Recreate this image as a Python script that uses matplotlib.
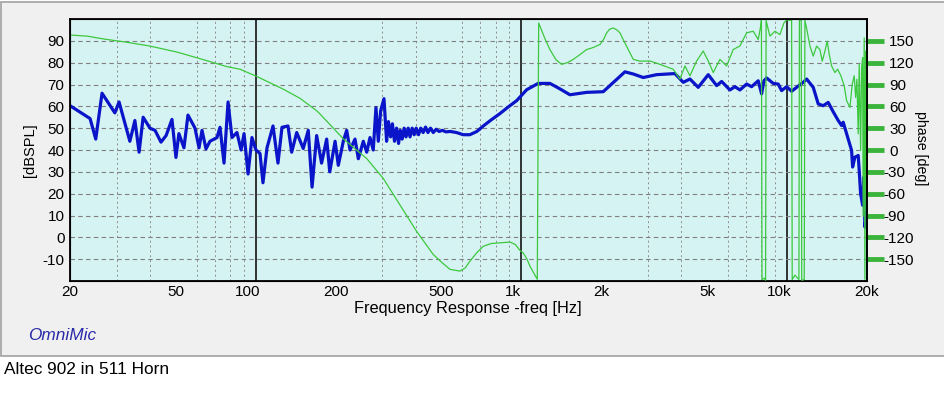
import matplotlib.pyplot as plt
import matplotlib.transforms as mtransforms
from matplotlib.patches import Rectangle
from matplotlib.ticker import FixedLocator, NullFormatter

# SPL curve (Hz, dB)
spl_freq = [20, 21.4, 23.8, 25.0, 26.4, 29.5, 30.6, 33.6, 35.1, 36.4, 37.7, 40.0, 41.8, 44.0,
            46.0, 48.4, 50.1, 51.4, 53.7, 55.6, 59.1, 61.2, 62.8, 65.0, 67.3, 71.5, 73.4, 76.0,
            78.7, 81.4, 85.0, 88.1, 90.4, 93.6, 96.8, 100.2, 103.8, 106.5, 110.3, 116.2, 121.3,
            125.6, 132.3, 136.6, 142.7, 151, 157.7, 163, 169.6, 177, 185, 190, 199, 204.6, 213.7,
            220, 226.5, 236.5, 243.4, 254.1, 261.8, 269.3, 277, 283.6, 289.4, 295.4, 304, 311,
            316, 322, 327, 333, 339, 345, 350, 356, 362, 368, 375, 381, 388, 395, 402, 410, 418,
            427, 436, 445, 455, 466, 478, 490, 505, 520, 540, 570, 604, 640, 680, 719, 770, 831,
            890, 960, 1047, 1157, 1281, 1397, 1523, 1761, 2033, 2454, 2638, 2876, 3230, 3784,
            4067, 4311, 4631, 5052, 5433, 5674, 6095, 6366, 6648, 7045, 7358, 7790, 8023, 8185,
            8378, 8872, 9266, 9542, 9964, 10406, 10866, 11508, 11852, 12550, 13106, 13686, 14290,
            14844, 15584, 16050, 16274, 16994, 17500, 17656, 18012, 18534, 18696, 18922, 19256,
            19468, 19640, 19932]
spl_db = [60.3, 58, 54.4, 45, 66, 57, 62, 44, 53.5, 39, 55, 50, 49, 43.6,
          46.6, 54, 36.6, 47.5, 41, 56, 50, 41, 49, 40.5, 44, 45.7, 50.4, 34,
          62, 45.7, 48, 40, 47.5, 29, 45.7, 40, 38.4, 25, 41, 51, 34,
          50.4, 51, 39, 48, 40.7, 49, 23, 46.6, 34, 45, 30, 44, 33, 44,
          49, 40, 45, 36, 44, 39, 45.7, 40, 59.4, 44, 58, 63.5, 44,
          53, 46, 52, 44, 50, 43, 49, 45, 50, 46, 50, 46, 50, 47, 50, 47, 50,
          48, 50.5, 48, 50, 48, 49.5, 48.5, 49, 48.3, 48.5, 48, 47, 47, 48.5, 51, 53.8, 56.7,
          59.6, 62.6, 67.6, 70.5, 70.5, 68, 65.3, 66.4, 66.7, 75.8, 74.8, 73.2, 74.5, 75,
          71, 72.5, 68.7, 74.5, 69.5, 71.4, 67.5, 69, 67.5, 70.2, 69, 71.7, 65.7, 71.7,
          73, 70.5, 70.2, 67.2, 69, 66.9, 68.7, 71, 72.5, 68.7, 61.1, 60.3, 61.8,
          58, 53.5, 51.2, 52.7, 45.1, 39.8, 32.2, 36.7, 37.5, 30.6, 20, 14.7,
          27.6, 4.7, 11]

# phase curve (Hz, deg), wraps at +-180
phase_freq = [20, 23.3, 26.6, 32.8, 40, 50.5, 61.7, 78, 87.3, 101, 127, 146.8, 169.6, 174.6,
              213.7, 261.8, 302, 349.2, 403.4, 466, 500, 538.6, 587, 615, 640.6, 680, 718.8, 770,
              830.7, 906, 950, 987.8, 1016, 1050, 1077, 1110, 1148, 1162, 1175, 1230, 1281, 1350,
              1418, 1490, 1568, 1660, 1761, 1870, 1976, 2040, 2094, 2150, 2218, 2290, 2350, 2430,
              2526, 2638, 2800, 3048, 3324, 3730, 3952, 4128, 4311, 4568, 4836, 5052, 5276, 5590,
              5924, 6272, 6648, 7045, 7460, 7790, 7958, 8010, 8050, 8185, 8304, 8342, 8620, 9004,
              9402, 9734, 9988, 10252, 10406, 10460, 10710, 10896, 11086, 11134, 11310, 11360,
              11608, 11678, 11882, 12194, 12550, 12924, 13298, 13570, 13892, 14170, 14416, 14718,
              15146, 15502, 15952, 16414, 16760, 17246, 17596, 17902, 18122, 18324, 18534, 18696,
              18922, 19088, 19256, 19352, 19522, 19640, 19806, 19932]
phase_deg = [158, 156.4, 152.7, 148, 142.8, 134.6, 125.5, 114.5, 111, 101, 83.6, 71, 54, 49.5,
             15.4, -11.8, -39, -75.4, -111.8, -143.6, -154, -164, -166.4, -162, -152.7, -141, -132.3, -128.5,
             -127.5, -126.5, -130, -138, -141.4, -150, -159.5, -168, -177.7, 174.5, 170, 152, 138, 124,
             117.7, 120, 124.5, 131, 138, 141, 145, 152, 161, 166, 167.7, 165, 161, 150,
             138, 124.5, 122, 122.3, 117.7, 110.9, 97.3, 115.5, 101.9, 122.3, 136, 122.3, 106.4, 124.5,
             115.5, 138, 143, 161, 163.2, 151.8, 170, 179, -178, -176, -179, 178, 156.4, 163.2,
             158.6, 174.5, 179, 178, 179.5, -178, -172, -175, -178, 178, 179, -179,
             -178, 178, 165, 142.8, 129, 142.8, 138, 122, 136, 149.6, 131.5, 115.5,
             106.4, 111, 102, 88.2, 67.8, 58.6, 90.4, 102, 72.3, 97.3, 22.2, 117.7,
             -0.4, 113, 126.8, -91, 154, -177.7, 136, -23]

x_ticks = [20, 50, 100, 200, 500, 1000, 2000, 5000, 10000, 20000]
x_labels = ['20', '50', '100', '200', '500', '1k', '2k', '5k', '10k', '20k']
grid_freqs = [30, 40, 50, 60, 70, 80, 90, 200, 300, 400, 500, 600, 700, 800, 900,
              2000, 3000, 4000, 5000, 6000, 7000, 8000, 9000]
decade_lines = [100, 1000, 10000]
db_ticks = [-10, 0, 10, 20, 30, 40, 50, 60, 70, 80, 90]
phase_ticks = [-150, -120, -90, -60, -30, 0, 30, 60, 90, 120, 150]

plt.rcParams['font.family'] = ['Liberation Sans', 'DejaVu Sans']
plt.rcParams['axes.unicode_minus'] = False
W, H = 945, 401

fig = plt.figure(figsize=(W / 100, H / 100), dpi=100)
fig.patch.set_facecolor('white')
fig.patches.append(Rectangle((1.5 / W, 45 / H), 1.0, 1 - 46.5 / H, transform=fig.transFigure,
                             facecolor='#f0f0f0', edgecolor='#a0a0a0', lw=1.2, zorder=-1))

ax = fig.add_axes([70 / W, 1 - 281 / H, 797 / W, 262 / H])
ax.set_facecolor('#d6f3f3')
ax.set_xscale('log')
ax.set_xlim(20, 20000)
ax.set_ylim(-20, 100)

ax.set_xticks(x_ticks, x_labels)
ax.xaxis.set_minor_locator(FixedLocator(grid_freqs))
ax.xaxis.set_minor_formatter(NullFormatter())
ax.set_yticks(db_ticks)
ax.tick_params(axis='x', which='both', length=0, pad=3, labelsize=11)
ax.tick_params(axis='y', length=0, pad=4, labelsize=11)
ax.xaxis.grid(True, which='minor', color='#8c8c8c', ls=(0, (2, 3)), lw=0.7)
ax.yaxis.grid(True, color='#808080', ls=(0, (4, 3)), lw=0.8)
for f in decade_lines:
    ax.axvline(f, color='black', lw=1.1, zorder=1)
for s in ax.spines.values():
    s.set_linewidth(1.3)

# decade labels sit a little left of their lines in the original
shift = mtransforms.ScaledTranslation(-8 / 100, 0, fig.dpi_scale_trans)
for lab in ax.get_xticklabels():
    if lab.get_text() in ('100', '1k', '10k'):
        lab.set_transform(lab.get_transform() + shift)

ax.plot(spl_freq, spl_db, color='#0a14c8', lw=2.3, zorder=3)

ax2 = ax.twinx()
ax2.set_ylim(-180, 180)
ax2.set_yticks(phase_ticks)
ax2.tick_params(axis='y', length=12, width=3.5, color='#3cb43c', pad=4, labelsize=11)
ax2.spines['right'].set_linewidth(1.3)
ax2.plot(phase_freq, phase_deg, color='#3cc83c', lw=0.9)

# minus signs hang to the left of the digits on the phase axis
hang = mtransforms.ScaledTranslation(-6 / 100, 0, fig.dpi_scale_trans)
for lab, v in zip(ax2.get_yticklabels(), phase_ticks):
    if v < 0:
        lab.set_transform(lab.get_transform() + hang)

fig.text(30 / W, 1 - 150 / H, '[dBSPL]', rotation=90, ha='center', va='center', fontsize=10.5)
fig.text(921 / W, 1 - 148 / H, 'phase [deg]', rotation=-90, ha='center', va='center', fontsize=10.2)
fig.text(468 / W, 1 - 309 / H, 'Frequency Response -freq [Hz]', ha='center', va='center', fontsize=11.8)
fig.text(28 / W, 1 - 336 / H, 'OmniMic', style='italic', color='#2a2aa8', va='center', fontsize=12.4)
fig.text(4 / W, 1 - 370 / H, 'Altec 902 in 511 Horn', va='center', fontsize=12.4)

fig.savefig('out.png', dpi=100, facecolor=fig.get_facecolor())
